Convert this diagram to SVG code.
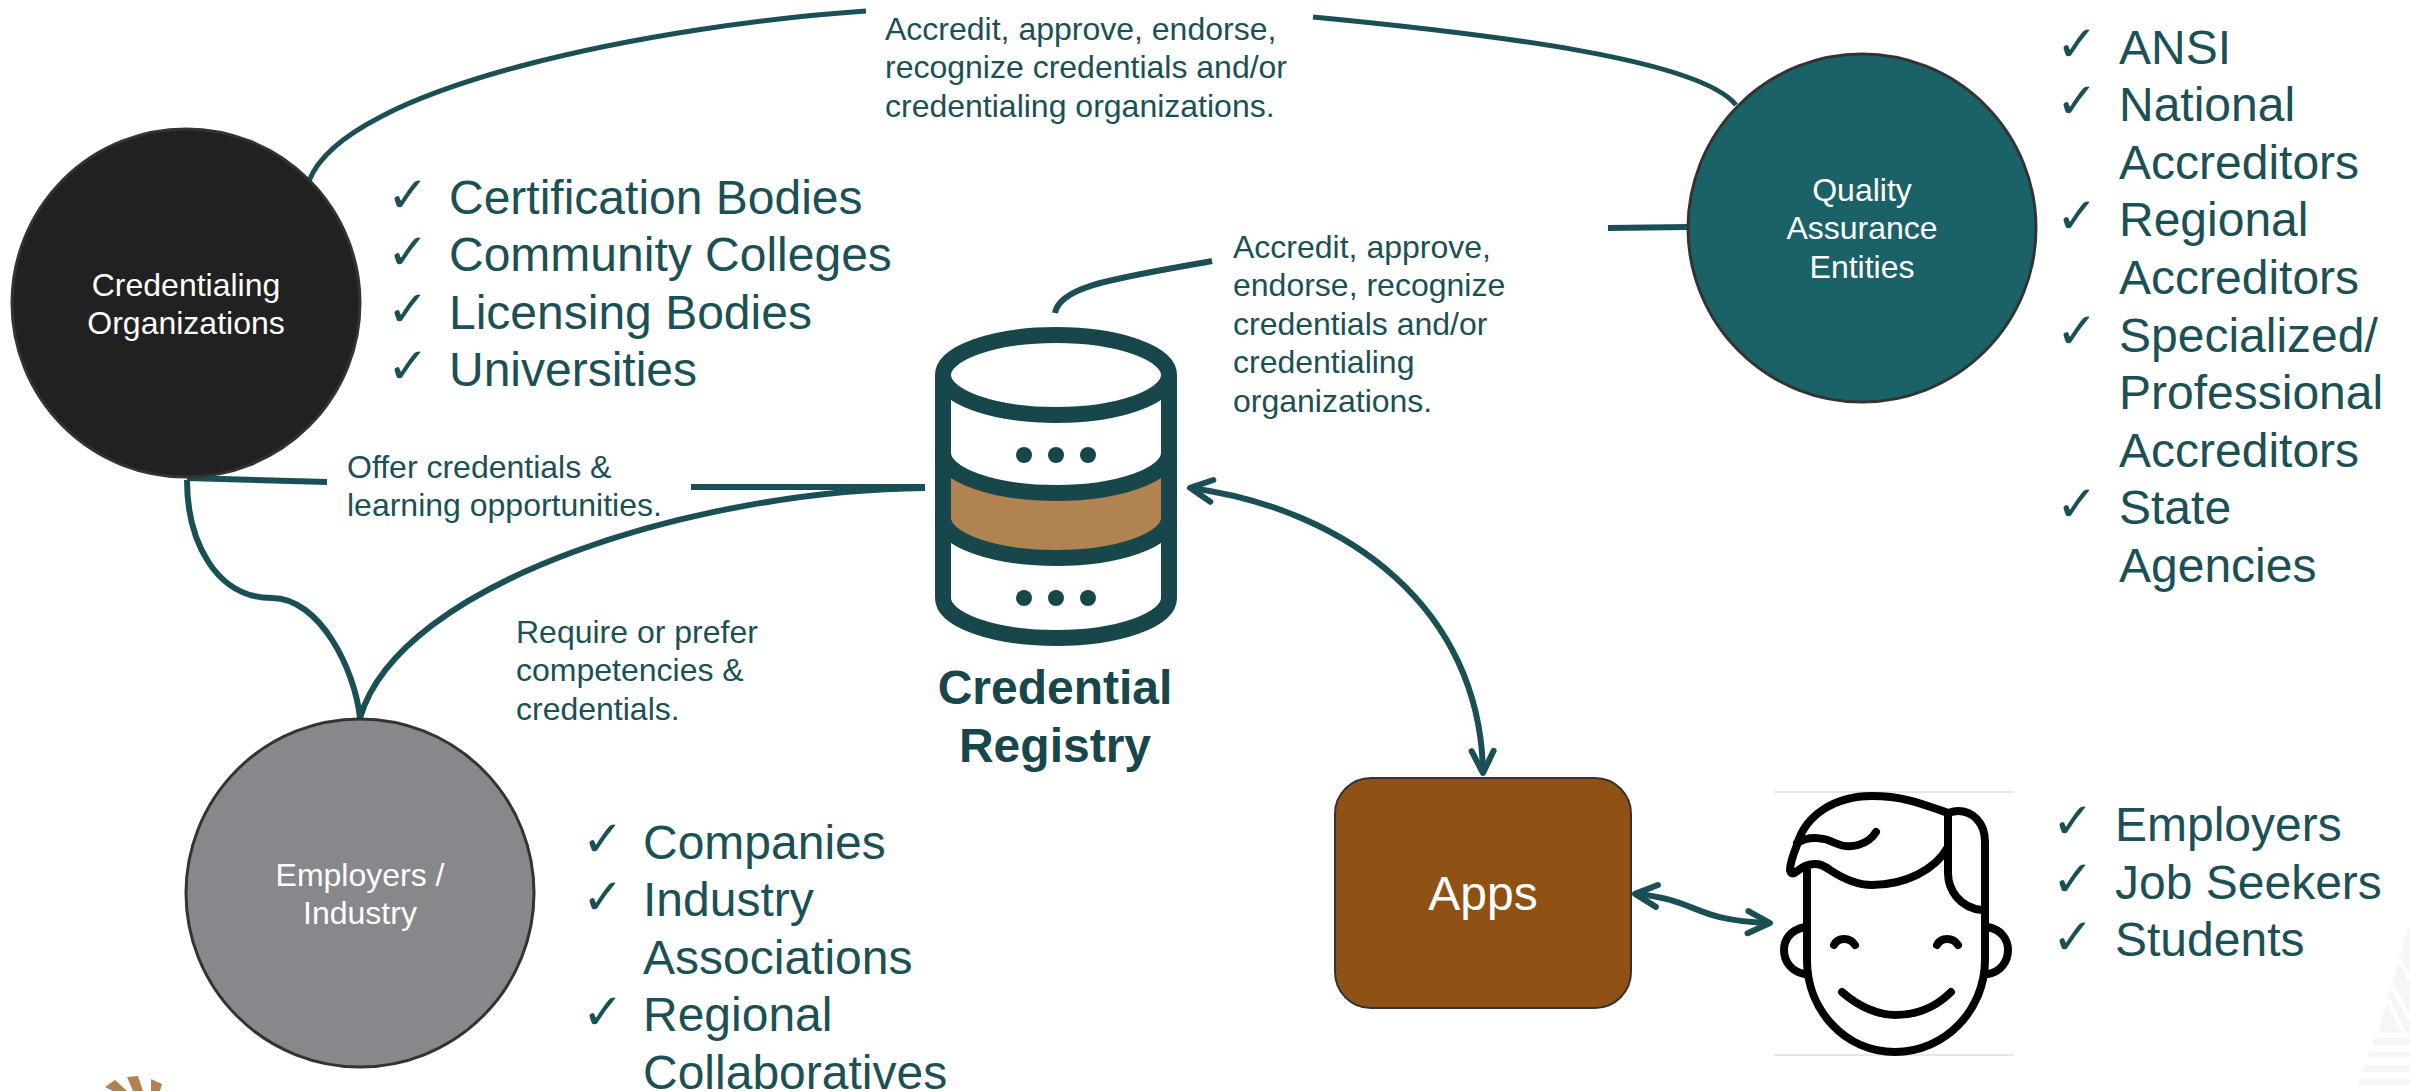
<svg xmlns="http://www.w3.org/2000/svg" width="2410" height="1091" viewBox="0 0 2410 1091">
<style>
text{font-family:"Liberation Sans",Arial,sans-serif;}
.l{font-size:48px;fill:#1b5056;}
.c{font-size:50px;fill:#1b5056;font-family:"DejaVu Sans",sans-serif;}
.s{font-size:32px;fill:#1b5056;}
.n{font-size:32px;fill:#fff;text-anchor:middle;}
.k{fill:none;stroke:#1a5055;stroke-width:6;}
.f{fill:none;stroke:#000;stroke-width:8;stroke-linecap:round;stroke-linejoin:round;}
.d{fill:none;stroke:#17474b;stroke-width:16;}
.o{stroke:#333;stroke-width:3;}
</style>
<defs>
<marker id="a" markerUnits="userSpaceOnUse" markerWidth="40" markerHeight="40" refX="29" refY="17" orient="auto-start-reverse" viewBox="0 0 40 40">
<path d="M8 6 L30 17 L8 28" fill="none" stroke="#1a5055" stroke-width="6" stroke-linecap="round" stroke-linejoin="round"/>
</marker>
</defs>
<rect width="2410" height="1091" fill="#fff"/>
<g id="watermark">
<path fill="#f5f6f7" d="M2408 928 L2410 928 V1033 H2378Z M2374 1038 H2410 V1045 H2372Z M2369 1052 H2410 V1058 H2367Z M2365 1065 H2410 V1072 H2363Z M2360 1078 H2410 V1085 H2358Z"/>
<path stroke="#fff" stroke-width="5" fill="none" d="M2392 985 L2410 1020 M2388 1000 L2404 1033 M2400 960 L2410 980"/>
</g>
<g id="logo" fill="#b08350">
<path d="M105 1087 L115 1080 L127 1091 L113 1091Z M127 1077 L138 1076 L143 1091 L133 1091Z M151 1079 L162 1084 L160 1091 L151 1091Z"/>
</g>
<g id="connectors">
<path class="k" style="stroke-width:5" d="M309 181 C345 85 660 25 866 11"/>
<path class="k" style="stroke-width:5" d="M1313 17 C1500 35 1700 60 1736 105"/>
<path class="k" d="M1608 228 L1688 227"/>
<path class="k" d="M1055 313 C1060 285 1120 278 1212 261"/>
<path class="k" d="M187 478 L327 482"/>
<path class="k" d="M691 487 L925 487"/>
<path class="k" d="M925 488 C700 490 400 580 360 718"/>
<path class="k" d="M187 480 C187 540 215 598 272 598 C320 598 355 670 360 718"/>
<path class="k" marker-start="url(#a)" marker-end="url(#a)" d="M1191 488 C1350 510 1480 610 1483 772"/>
<path class="k" marker-start="url(#a)" marker-end="url(#a)" d="M1636 894 C1700 900 1690 920 1769 923"/>
</g>
<g id="credentialing-organizations">
<circle class="o" cx="186" cy="303" r="174" fill="#212121"/>
<text class="n" y="296"><tspan x="186">Credentialing</tspan><tspan x="186" dy="38.4">Organizations</tspan></text>
</g>
<g id="credentialing-list">
<text class="c" x="387" y="212">✓</text><text class="c" x="387" y="269">✓</text><text class="c" x="387" y="326">✓</text><text class="c" x="387" y="383">✓</text>
<text class="l" y="214"><tspan x="449">Certification Bodies</tspan><tspan x="449" dy="57.3">Community Colleges</tspan><tspan x="449" dy="57.3">Licensing Bodies</tspan><tspan x="449" dy="57.3">Universities</tspan></text>
</g>
<g id="quality-assurance-entities">
<circle class="o" cx="1862" cy="228" r="174" fill="#1b6268"/>
<text class="n" y="201"><tspan x="1862">Quality</tspan><tspan x="1862" dy="38.4">Assurance</tspan><tspan x="1862" dy="38.4">Entities</tspan></text>
</g>
<g id="quality-list">
<text class="c" x="2056" y="61">✓</text><text class="c" x="2056" y="118">✓</text><text class="c" x="2056" y="233">✓</text><text class="c" x="2056" y="348">✓</text><text class="c" x="2056" y="521">✓</text>
<text class="l" y="63.5"><tspan x="2119">ANSI</tspan><tspan x="2119" dy="57.6">National</tspan><tspan x="2119" dy="57.6">Accreditors</tspan><tspan x="2119" dy="57.6">Regional</tspan><tspan x="2119" dy="57.6">Accreditors</tspan><tspan x="2119" dy="57.6">Specialized/</tspan><tspan x="2119" dy="57.6">Professional</tspan><tspan x="2119" dy="57.6">Accreditors</tspan><tspan x="2119" dy="57.6">State</tspan><tspan x="2119" dy="57.6">Agencies</tspan></text>
</g>
<g id="employers-industry">
<circle class="o" cx="360" cy="893" r="174" fill="#88878c"/>
<text class="n" y="886"><tspan x="360">Employers /</tspan><tspan x="360" dy="38.4">Industry</tspan></text>
</g>
<g id="employers-list">
<text class="c" x="582" y="856">✓</text><text class="c" x="582" y="914">✓</text><text class="c" x="582" y="1029">✓</text>
<text class="l" y="858.5"><tspan x="643">Companies</tspan><tspan x="643" dy="57.6">Industry</tspan><tspan x="643" dy="57.6">Associations</tspan><tspan x="643" dy="57.6">Regional</tspan><tspan x="643" dy="57.6">Collaboratives</tspan></text>
</g>
<g id="credential-registry">
<path d="M943 520 A113 40 0 0 0 1169 520 V600 A113 40 0 0 1 943 600Z" fill="#fff"/>
<path d="M943 455 A113 38 0 0 0 1169 455 V520 A113 40 0 0 1 943 520Z" fill="#b08350"/>
<ellipse class="d" cx="1056" cy="375" rx="113" ry="40"/>
<path class="d" d="M943 375 V598 A113 40 0 0 0 1169 598 V375"/>
<path class="d" d="M943 453 A113 40 0 0 0 1169 453"/>
<path class="d" d="M943 518 A113 40 0 0 0 1169 518"/>
<g fill="#17474b"><circle cx="1024" cy="455" r="8"/><circle cx="1056" cy="455" r="8"/><circle cx="1088" cy="455" r="8"/><circle cx="1024" cy="598" r="8"/><circle cx="1056" cy="598" r="8"/><circle cx="1088" cy="598" r="8"/></g>
<text y="704" style="font-size:48px;font-weight:bold;fill:#17474b;text-anchor:middle"><tspan x="1055">Credential</tspan><tspan x="1055" dy="57.6">Registry</tspan></text>
</g>
<g id="apps">
<rect class="o" style="stroke-width:2" x="1335" y="778" width="296" height="230" rx="36" fill="#8f5214"/>
<text class="n" style="font-size:48px" x="1483" y="910">Apps</text>
</g>
<g id="user">
<path d="M1774 792 H2013 M1774 1055 H2013" stroke="#e6e6e6" stroke-width="2" fill="none"/>
<path class="f" d="M1807 870 V960 C1807 1010 1845 1052 1895 1052 C1945 1052 1985 1010 1985 960 V842 C1985 822 1972 811 1958 811 C1954 811 1951 812 1948 813"/>
<path class="f" d="M1948 813 C1925 805 1905 796 1872 796 C1835 796 1805 815 1797 845 C1793 855 1790 865 1790 870 C1792 878 1797 870 1805 866 C1815 862 1822 864 1830 870 C1845 880 1858 885 1872 885 C1905 885 1935 870 1948 847 M1948 813 V873 C1948 890 1960 908 1982 910"/>
<path class="f" d="M1797 843 C1810 835 1825 838 1835 843 C1850 850 1868 845 1876 832"/>
<path class="f" d="M1805 927 C1790 930 1784 940 1784 950 C1784 962 1792 972 1805 974 M1988 927 C2002 930 2008 940 2008 950 C2008 962 2000 972 1988 974"/>
<path class="f" d="M1834 945 C1838 937 1850 937 1855 945 M1937 945 C1941 937 1953 937 1958 945"/>
<path class="f" d="M1842 992 C1860 1008 1880 1015 1895 1015 C1915 1015 1935 1008 1951 992"/>
</g>
<g id="user-list">
<text class="c" x="2052" y="838">✓</text><text class="c" x="2052" y="896">✓</text><text class="c" x="2052" y="954">✓</text>
<text class="l" y="841"><tspan x="2115">Employers</tspan><tspan x="2115" dy="57.6">Job Seekers</tspan><tspan x="2115" dy="57.6">Students</tspan></text>
</g>
<g id="labels">
<text class="s" y="40"><tspan x="885">Accredit, approve, endorse,</tspan><tspan x="885" dy="38.4">recognize credentials and/or</tspan><tspan x="885" dy="38.4">credentialing organizations.</tspan></text>
<text class="s" y="258"><tspan x="1233">Accredit, approve,</tspan><tspan x="1233" dy="38.4">endorse, recognize</tspan><tspan x="1233" dy="38.4">credentials and/or</tspan><tspan x="1233" dy="38.4">credentialing</tspan><tspan x="1233" dy="38.4">organizations.</tspan></text>
<text class="s" y="478"><tspan x="347">Offer credentials &amp;</tspan><tspan x="347" dy="38.4">learning opportunities.</tspan></text>
<text class="s" y="643"><tspan x="516">Require or prefer</tspan><tspan x="516" dy="38.4">competencies &amp;</tspan><tspan x="516" dy="38.4">credentials.</tspan></text>
</g>
</svg>
